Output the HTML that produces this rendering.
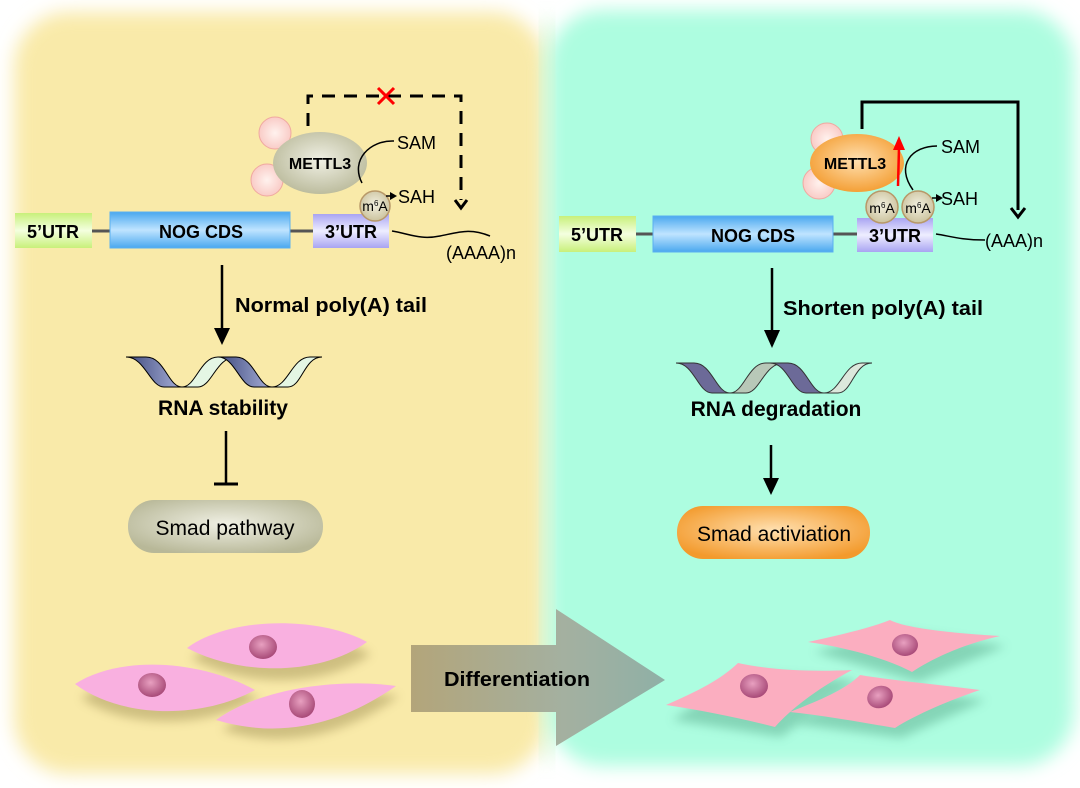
<!DOCTYPE html>
<html><head><meta charset="utf-8"><style>
html,body{margin:0;padding:0;background:#fff;}
svg{display:block;font-family:"Liberation Sans",Arial,sans-serif;}
</style></head><body>
<svg width="1080" height="788" viewBox="0 0 1080 788" xmlns="http://www.w3.org/2000/svg">
<defs>
<filter id="bl" x="-10%" y="-10%" width="120%" height="120%"><feGaussianBlur stdDeviation="9"/></filter>
<filter id="sh" x="-30%" y="-30%" width="160%" height="160%"><feGaussianBlur stdDeviation="5"/></filter>
<linearGradient id="g5" x1="0" y1="0" x2="0" y2="1"><stop offset="0" stop-color="#c8f07a"/><stop offset=".5" stop-color="#f4ffe0"/><stop offset="1" stop-color="#c8f07a"/></linearGradient>
<linearGradient id="gc" x1="0" y1="0" x2="0" y2="1"><stop offset="0" stop-color="#4aa8ef"/><stop offset=".5" stop-color="#bfe4ff"/><stop offset="1" stop-color="#4aa8ef"/></linearGradient>
<linearGradient id="g3" x1="0" y1="0" x2="0" y2="1"><stop offset="0" stop-color="#a9a4f2"/><stop offset=".5" stop-color="#eeeeff"/><stop offset="1" stop-color="#a9a4f2"/></linearGradient>
<radialGradient id="gm" cx=".5" cy=".45" r=".6"><stop offset="0" stop-color="#f0f0e4"/><stop offset="1" stop-color="#b8b898"/></radialGradient>
<radialGradient id="go" cx=".5" cy=".45" r=".6"><stop offset="0" stop-color="#ffe0b0"/><stop offset="1" stop-color="#f39a2c"/></radialGradient>
<radialGradient id="gp" cx=".5" cy=".5" r=".6"><stop offset="0" stop-color="#fff2ee"/><stop offset="1" stop-color="#f8c4bf"/></radialGradient>
<radialGradient id="ga" cx=".5" cy=".45" r=".6"><stop offset="0" stop-color="#f2f0e0"/><stop offset="1" stop-color="#c8bf98"/></radialGradient>
<radialGradient id="gn" cx=".45" cy=".4" r=".6"><stop offset="0" stop-color="#e8a0c0"/><stop offset="1" stop-color="#a84a78"/></radialGradient>
<linearGradient id="garr" x1="0" y1="0" x2="1" y2="0"><stop offset="0" stop-color="#b3a57a"/><stop offset=".6" stop-color="#a4b0a0"/><stop offset="1" stop-color="#8fb0a6"/></linearGradient>
<linearGradient id="rb1" x1="0" y1="0" x2="1" y2="0"><stop offset="0" stop-color="#3f4a7e"/><stop offset="1" stop-color="#a8b0d8"/></linearGradient>
</defs>

<rect x="14" y="12" width="532" height="762" rx="55" fill="#f9eaa9" filter="url(#bl)"/>
<rect x="548" y="10" width="526" height="756" rx="55" fill="#adfde0" filter="url(#bl)"/>
<rect x="540" y="20" width="14" height="740" fill="#cdf4cc" filter="url(#bl)" opacity=".6"/>

<!-- LEFT -->
<line x1="92" y1="231" x2="110" y2="231" stroke="#555" stroke-width="3"/>
<line x1="290" y1="231" x2="313" y2="231" stroke="#555" stroke-width="3"/>
<rect x="15" y="213" width="77" height="35" fill="url(#g5)"/>
<text x="53" y="238" font-size="18" font-weight="bold" text-anchor="middle">5’UTR</text>
<rect x="110" y="212" width="180" height="36" fill="url(#gc)" stroke="#5ab0f0"/>
<text x="201" y="238" font-size="18" font-weight="bold" text-anchor="middle">NOG CDS</text>
<rect x="313" y="214" width="76" height="34" fill="url(#g3)"/>
<text x="351" y="238" font-size="18" font-weight="bold" text-anchor="middle">3’UTR</text>
<path d="M392 231 C410 234,420 240,440 236 S470 228,490 236" fill="none" stroke="#000" stroke-width="1.5"/>
<text x="446" y="259" font-size="18">(AAAA)n</text>

<circle cx="275" cy="133" r="16" fill="url(#gp)" stroke="#f0a8a0"/>
<circle cx="267" cy="180" r="16" fill="url(#gp)" stroke="#f0a8a0"/>
<ellipse cx="320" cy="163" rx="47" ry="31" fill="url(#gm)"/>
<text x="320" y="169" font-size="16" font-weight="bold" text-anchor="middle">METTL3</text>
<path d="M394 141 C370 140,350 160,362 183" fill="none" stroke="#000" stroke-width="1.5"/>
<circle cx="375" cy="206" r="15" fill="url(#ga)" stroke="#b89868" stroke-width="1.5"/>
<text x="375" y="211" font-size="14" text-anchor="middle">m<tspan font-size="8" dy="-5">6</tspan><tspan dy="5">A</tspan></text>
<line x1="386" y1="196" x2="393" y2="196" stroke="#000" stroke-width="1.5"/>
<path d="M397 196 L390 192 L390 200Z"/>
<text x="397" y="149" font-size="18">SAM</text>
<text x="398" y="203" font-size="18">SAH</text>
<path d="M308 126 V96 H461 V200" fill="none" stroke="#000" stroke-width="3" stroke-dasharray="13 9"/>
<path d="M455 200 L461 208 L467 200" fill="none" stroke="#000" stroke-width="3"/>
<path d="M378 88 L394 104 M394 88 L378 104" stroke="#f00" stroke-width="3"/>

<line x1="222" y1="265" x2="222" y2="333" stroke="#000" stroke-width="2.5"/>
<path d="M214 328 L222 345 L230 328Z"/>
<text x="235" y="312" font-size="20" font-weight="bold" textLength="192" lengthAdjust="spacingAndGlyphs">Normal poly(A) tail</text>
<path d="M126 357 H146 C165 357,168 387,182 387 H164 C150 387,145 357,126 357Z" fill="url(#rb1)" stroke="#000"/>
<path d="M182 387 C196 387,200 357,218 357 H236 C216 357,212 387,198 387Z" fill="#e4f6e4" stroke="#000"/>
<path d="M218 357 H236 C254 357,258 387,272 387 H254 C240 387,235 357,218 357Z" fill="url(#rb1)" stroke="#000"/>
<path d="M272 387 C288 387,292 357,310 357 H322 C304 357,302 387,288 387Z" fill="#e4f6e4" stroke="#000"/>
<text x="223" y="415" font-size="21" font-weight="bold" text-anchor="middle">RNA stability</text>
<line x1="226" y1="431" x2="226" y2="484" stroke="#000" stroke-width="2.5"/>
<line x1="214" y1="484" x2="238" y2="484" stroke="#000" stroke-width="3"/>
<rect x="128" y="500" width="195" height="53" rx="26" fill="url(#gm)"/>
<text x="225" y="535" font-size="21" text-anchor="middle">Smad pathway</text>

<!-- RIGHT -->
<line x1="636" y1="234" x2="653" y2="234" stroke="#555" stroke-width="3"/>
<line x1="833" y1="234" x2="857" y2="234" stroke="#555" stroke-width="3"/>
<rect x="559" y="216" width="77" height="36" fill="url(#g5)"/>
<text x="597" y="241" font-size="18" font-weight="bold" text-anchor="middle">5’UTR</text>
<rect x="653" y="216" width="180" height="36" fill="url(#gc)" stroke="#5ab0f0"/>
<text x="753" y="242" font-size="18" font-weight="bold" text-anchor="middle">NOG CDS</text>
<rect x="857" y="218" width="76" height="34" fill="url(#g3)"/>
<text x="895" y="242" font-size="18" font-weight="bold" text-anchor="middle">3’UTR</text>
<path d="M936 234 C950 236,960 240,985 240" fill="none" stroke="#000" stroke-width="1.5"/>
<text x="985" y="247" font-size="18">(AAA)n</text>

<circle cx="827" cy="139" r="16" fill="url(#gp)" stroke="#f0a8a0"/>
<circle cx="819" cy="183" r="16" fill="url(#gp)" stroke="#f0a8a0"/>
<ellipse cx="857" cy="163" rx="47" ry="29" fill="url(#go)"/>
<text x="855" y="169" font-size="16" font-weight="bold" text-anchor="middle">METTL3</text>
<line x1="898" y1="186" x2="899" y2="148" stroke="#f00" stroke-width="2.5"/>
<path d="M893 150 L899 136 L905 150Z" fill="#f00"/>
<path d="M937 146 C912 146,895 165,913 190" fill="none" stroke="#000" stroke-width="1.5"/>
<circle cx="882" cy="207" r="16" fill="url(#ga)" stroke="#b89868" stroke-width="1.5"/>
<text x="882" y="213" font-size="14" text-anchor="middle">m<tspan font-size="8" dy="-5">6</tspan><tspan dy="5">A</tspan></text>
<circle cx="918" cy="207" r="16" fill="url(#ga)" stroke="#b89868" stroke-width="1.5"/>
<text x="918" y="213" font-size="14" text-anchor="middle">m<tspan font-size="8" dy="-5">6</tspan><tspan dy="5">A</tspan></text>
<line x1="932" y1="198" x2="938" y2="198" stroke="#000" stroke-width="1.5"/>
<path d="M943 198 L936 194 L936 202Z"/>
<text x="941" y="153" font-size="18">SAM</text>
<text x="941" y="205" font-size="18">SAH</text>
<path d="M862 129 V102 H1018 V210" fill="none" stroke="#000" stroke-width="3"/>
<path d="M1011 208 L1018 217 L1025 208" fill="none" stroke="#000" stroke-width="3"/>

<line x1="772" y1="268" x2="772" y2="335" stroke="#000" stroke-width="2.5"/>
<path d="M764 330 L772 348 L780 330Z"/>
<text x="783" y="315" font-size="20" font-weight="bold" textLength="200" lengthAdjust="spacingAndGlyphs">Shorten poly(A) tail</text>
<path d="M676 363 H694 C712 363,716 393,730 393 H712 C698 393,694 363,676 363Z" fill="#6c6a98" stroke="#333"/>
<path d="M730 393 C744 393,748 363,766 363 H784 C764 363,760 393,746 393Z" fill="#b8c8b8" stroke="#333"/>
<path d="M770 363 H788 C806 363,810 393,824 393 H806 C792 393,788 363,770 363Z" fill="#6c6a98" stroke="#333"/>
<path d="M824 393 C840 393,844 363,862 363 H872 C854 363,852 393,838 393Z" fill="#dce8dc" stroke="#333"/>
<text x="776" y="416" font-size="21" font-weight="bold" text-anchor="middle">RNA degradation</text>
<line x1="771" y1="445" x2="771" y2="482" stroke="#000" stroke-width="2.5"/>
<path d="M763 478 L771 495 L779 478Z"/>
<rect x="677" y="506" width="193" height="53" rx="26" fill="url(#go)"/>
<text x="774" y="541" font-size="21" text-anchor="middle">Smad activiation</text>

<path d="M411 645 H556 V609 L665 680 L556 746 V712 H411 Z" fill="url(#garr)"/>
<text x="444" y="686" font-size="20" font-weight="bold" textLength="146" lengthAdjust="spacingAndGlyphs">Differentiation</text>

<g>
<path d="M77 690 C120 660,200 665,255 690 C200 722,120 720,77 690Z" fill="#9a8a50" opacity=".45" filter="url(#sh)" transform="translate(4,8)"/>
<path d="M187 650 C230 620,320 620,367 646 C320 680,240 680,187 650Z" fill="#9a8a50" opacity=".45" filter="url(#sh)" transform="translate(4,8)"/>
<path d="M218 722 C260 690,340 680,395 688 C350 720,290 745,218 722Z" fill="#9a8a50" opacity=".45" filter="url(#sh)" transform="translate(4,8)"/>
<path d="M75 684 C120 655,200 660,255 690 C200 720,120 718,75 684Z" fill="#f9b0e0"/>
<path d="M187 648 C230 616,320 616,367 642 C320 676,240 676,187 648Z" fill="#f9b0e0"/>
<path d="M216 720 C260 688,340 678,396 686 C350 718,290 742,216 720Z" fill="#f9b0e0"/>
<ellipse cx="152" cy="685" rx="14" ry="12" fill="url(#gn)"/>
<ellipse cx="263" cy="647" rx="14" ry="12" fill="url(#gn)"/>
<ellipse cx="302" cy="704" rx="13" ry="14" fill="url(#gn)"/>
</g>
<g>
<path d="M666 710 L738 663 L852 670 L775 727 Z" fill="#4a9a7a" opacity=".4" filter="url(#sh)" transform="translate(6,10)"/>
<path d="M808 642 L890 620 L1000 636 L912 672 Z" fill="#4a9a7a" opacity=".4" filter="url(#sh)" transform="translate(6,10)"/>
<path d="M790 714 L860 675 L980 690 L895 728 Z" fill="#4a9a7a" opacity=".4" filter="url(#sh)" transform="translate(6,10)"/>
<path d="M666 705 C700 690,720 680,738 663 C770 670,810 672,852 670 C815 690,790 710,775 727 C740 718,700 710,666 705Z" fill="#fbaec0"/>
<path d="M808 642 C840 635,870 628,890 620 C905 628,950 633,1000 636 C960 645,930 660,912 672 C890 660,850 648,808 642Z" fill="#fbaec0"/>
<path d="M790 712 C820 700,845 690,860 675 C890 680,940 685,980 690 C950 700,915 715,895 728 C860 722,820 715,790 712Z" fill="#fbaec0"/>
<ellipse cx="754" cy="686" rx="14" ry="12" fill="url(#gn)"/>
<ellipse cx="905" cy="645" rx="13" ry="11" fill="url(#gn)"/>
<ellipse cx="880" cy="697" rx="13" ry="11" fill="url(#gn)" transform="rotate(-20 880 697)"/>
</g>
</svg>
</body></html>
